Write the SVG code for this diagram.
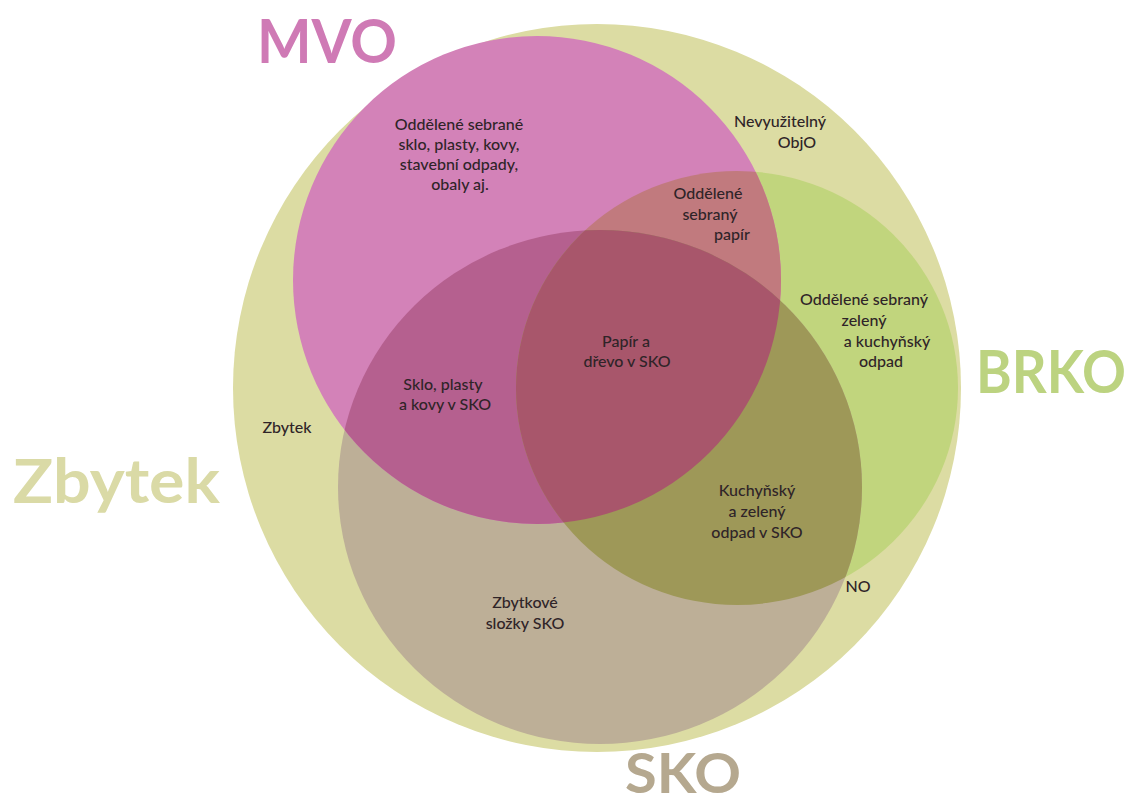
<svg xmlns="http://www.w3.org/2000/svg" width="1143" height="805" viewBox="0 0 1143 805">
<style>
.t{font-family:Lato,"Open Sans","Liberation Sans",sans-serif;font-weight:700;}
.l{font-family:Lato,"Open Sans","Liberation Sans",sans-serif;font-size:16px;font-weight:500;fill:#2f2428;text-anchor:middle;}
</style>
<defs>
<clipPath id="cMVO"><circle cx="537" cy="280" r="244"/></clipPath>
<clipPath id="cSKO"><ellipse cx="600" cy="487" rx="262" ry="257"/></clipPath>
</defs>
<rect width="1143" height="805" fill="#ffffff"/>
<g id="zbytek">
<circle cx="597" cy="388" r="364" fill="#dcdca3"/>
<text class="t" x="13" y="503" font-size="62" fill="#dadaa6" textLength="207" lengthAdjust="spacingAndGlyphs">Zbytek</text>
</g>
<g id="brko">
<ellipse cx="737" cy="388" rx="221" ry="217" fill="#c1d57d"/>
<text class="t" x="976" y="393" font-size="60" fill="#bcd380" textLength="150" lengthAdjust="spacingAndGlyphs">BRKO</text>
</g>
<g id="sko">
<ellipse cx="600" cy="487" rx="262" ry="257" fill="#bdaf97"/>
<text class="t" x="625" y="793" font-size="56" fill="#b5a88f" textLength="116" lengthAdjust="spacingAndGlyphs">SKO</text>
</g>
<g id="mvo">
<circle cx="537" cy="280" r="244" fill="#d382b8"/>
<text class="t" x="257" y="63" font-size="62" fill="#cf7ab5" textLength="140" lengthAdjust="spacingAndGlyphs">MVO</text>
</g>
<g id="overlaps">
<g clip-path="url(#cMVO)">
<ellipse cx="737" cy="388" rx="221" ry="217" fill="#c17a7e"/>
<ellipse cx="600" cy="487" rx="262" ry="257" fill="#b5608f"/>
</g>
<g clip-path="url(#cSKO)">
<ellipse cx="737" cy="388" rx="221" ry="217" fill="#9e9858"/>
</g>
<g clip-path="url(#cMVO)"><g clip-path="url(#cSKO)">
<ellipse cx="737" cy="388" rx="221" ry="217" fill="#a8566b"/>
</g></g>
</g>
<g id="connectors"/>
<g id="labels">
<g id="lbl-mvo"><text class="l" x="459" y="130">Oddělené sebrané</text><text class="l" x="459" y="150">sklo, plasty, kovy,</text><text class="l" x="459" y="170">stavební odpady,</text><text class="l" x="460" y="190">obaly aj.</text></g>
<g id="lbl-objo"><text class="l" x="780" y="127">Nevyužitelný</text><text class="l" x="797" y="148">ObjO</text></g>
<g id="lbl-papir"><text class="l" x="708" y="199">Oddělené</text><text class="l" x="710" y="220">sebraný</text><text class="l" x="732" y="240">papír</text></g>
<g id="lbl-brko"><text class="l" x="864" y="305">Oddělené sebraný</text><text class="l" x="864" y="326">zelený</text><text class="l" x="887" y="347">a kuchyňský</text><text class="l" x="881" y="367">odpad</text></g>
<g id="lbl-papir-sko"><text class="l" x="626" y="347">Papír a</text><text class="l" x="627" y="367">dřevo v SKO</text></g>
<g id="lbl-sklo-sko"><text class="l" x="443" y="390">Sklo, plasty</text><text class="l" x="445" y="410">a kovy v SKO</text></g>
<g id="lbl-zbytek"><text class="l" x="287" y="433">Zbytek</text></g>
<g id="lbl-kuch-sko"><text class="l" x="757" y="496">Kuchyňský</text><text class="l" x="757" y="517">a zelený</text><text class="l" x="757" y="538">odpad v SKO</text></g>
<g id="lbl-no"><text class="l" x="858" y="592">NO</text></g>
<g id="lbl-sko"><text class="l" x="525" y="608">Zbytkové</text><text class="l" x="525" y="629">složky SKO</text></g>
</g>
</svg>
